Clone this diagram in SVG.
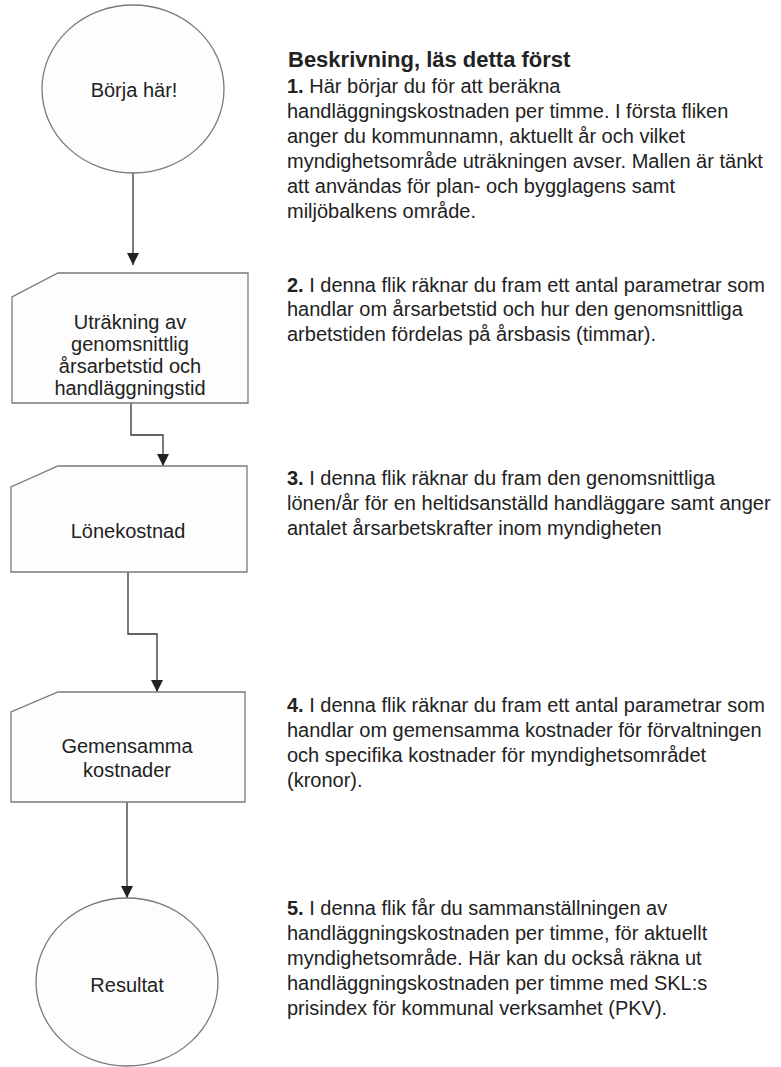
<svg xmlns="http://www.w3.org/2000/svg" width="781" height="1067" viewBox="0 0 781 1067">
<defs>
<style>
.node{fill:#fdfdfd;stroke:#7a7a7a;stroke-width:1.3}
.lbl{font-family:"Liberation Sans",Arial,sans-serif;font-size:20px;fill:#222;text-anchor:middle}
.desc{font-family:"Liberation Sans",Arial,sans-serif;font-size:20px;fill:#222}
.head{font-family:"Liberation Sans",Arial,sans-serif;font-size:22px;font-weight:bold;fill:#222}
.conn{fill:none;stroke:#333;stroke-width:1.3}
</style>
<marker id="arr" viewBox="0 0 12 12" markerWidth="12" markerHeight="12" refX="12" refY="6" orient="auto" markerUnits="userSpaceOnUse">
<path d="M0,0 L12,6 L0,12 Z" fill="#222"/>
</marker>
</defs>
<rect width="781" height="1067" fill="#fff"/>
<g id="connectors">
<path class="conn" d="M133,173 V265" marker-end="url(#arr)"/>
<path class="conn" d="M131,403 V435 H163 V466" marker-end="url(#arr)"/>
<path class="conn" d="M128,572 V634 H157 V692" marker-end="url(#arr)"/>
<path class="conn" d="M127,802 V898" marker-end="url(#arr)"/>
</g>
<g id="start">
<ellipse class="node" cx="133" cy="89" rx="91" ry="84"/>
<text class="lbl" x="134" y="97">Börja här!</text>
</g>
<g id="step1">
<polygon class="node" points="58,273 248,273 248,403 12,403 12,297"/>
<text class="lbl" x="130" y="329">Uträkning av</text>
<text class="lbl" x="130" y="351">genomsnittlig</text>
<text class="lbl" x="130" y="373">årsarbetstid och</text>
<text class="lbl" x="130" y="395">handläggningstid</text>
</g>
<g id="step2">
<polygon class="node" points="58,466 247,466 247,572 11,572 11,487"/>
<text class="lbl" x="128" y="538">Lönekostnad</text>
</g>
<g id="step3">
<polygon class="node" points="58,692 245,692 245,802 11,802 11,712"/>
<text class="lbl" x="127" y="753">Gemensamma</text>
<text class="lbl" x="127" y="777">kostnader</text>
</g>
<g id="end">
<ellipse class="node" cx="127" cy="982" rx="91" ry="84"/>
<text class="lbl" x="127" y="992">Resultat</text>
</g>
<g id="description">
<text class="head" x="288" y="67">Beskrivning, läs detta först</text>
<text class="desc" x="287" y="93"><tspan font-weight="bold">1.</tspan> Här börjar du för att beräkna</text>
<text class="desc" x="287" y="118">handläggningskostnaden per timme. I första fliken</text>
<text class="desc" x="287" y="143">anger du kommunnamn, aktuellt år och vilket</text>
<text class="desc" x="287" y="168">myndighetsområde uträkningen avser. Mallen är tänkt</text>
<text class="desc" x="287" y="193">att användas för plan- och bygglagens samt</text>
<text class="desc" x="287" y="218">miljöbalkens område.</text>
<text class="desc" x="287" y="292"><tspan font-weight="bold">2.</tspan> I denna flik räknar du fram ett antal parametrar som</text>
<text class="desc" x="287" y="316">handlar om årsarbetstid och hur den genomsnittliga</text>
<text class="desc" x="287" y="341">arbetstiden fördelas på årsbasis (timmar).</text>
<text class="desc" x="287" y="485"><tspan font-weight="bold">3.</tspan> I denna flik räknar du fram den genomsnittliga</text>
<text class="desc" x="287" y="510">lönen/år för en heltidsanställd handläggare samt anger</text>
<text class="desc" x="287" y="535">antalet årsarbetskrafter inom myndigheten</text>
<text class="desc" x="287" y="712"><tspan font-weight="bold">4.</tspan> I denna flik räknar du fram ett antal parametrar som</text>
<text class="desc" x="287" y="737">handlar om gemensamma kostnader för förvaltningen</text>
<text class="desc" x="287" y="762">och specifika kostnader för myndighetsområdet</text>
<text class="desc" x="287" y="787">(kronor).</text>
<text class="desc" x="287" y="915"><tspan font-weight="bold">5.</tspan> I denna flik får du sammanställningen av</text>
<text class="desc" x="287" y="940">handläggningskostnaden per timme, för aktuellt</text>
<text class="desc" x="287" y="965">myndighetsområde. Här kan du också räkna ut</text>
<text class="desc" x="287" y="990">handläggningskostnaden per timme med SKL:s</text>
<text class="desc" x="287" y="1015">prisindex för kommunal verksamhet (PKV).</text>
</g>
</svg>
